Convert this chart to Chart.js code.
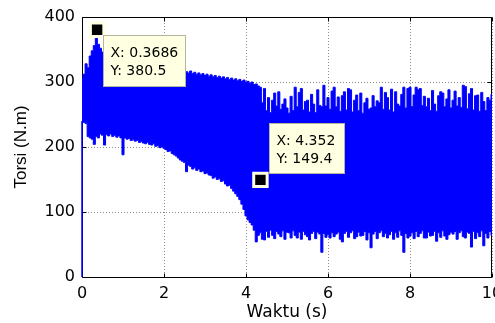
<!DOCTYPE html>
<html>
<head>
<meta charset="utf-8">
<script src="https://cdn.jsdelivr.net/npm/chart.js@4.4.1/dist/chart.umd.min.js"></script>
<style>
html, body { margin: 0; padding: 0; background: #fff; overflow: hidden; }
#wrap { width: 495px; height: 323px; overflow: hidden; }
</style>
</head>
<body>
<div id="wrap"><canvas id="grafik" width="510" height="323"></canvas></div>
<script>
// envelope of the torque signal, one value every 0.05 s from 0 to 10 s
var langkah = 0.05;
var batasAtas = [305,
    312, 328, 322, 340, 348, 356, 380, 358, 352, 346, 338, 342, 335, 330, 334, 328, 331, 326, 329, 325,
    324, 327, 322, 325, 320, 323, 319, 322, 318, 321, 317, 320, 316, 319, 315, 318, 314, 317, 313, 316,
    313, 316, 312, 318, 314, 317, 313, 319, 315, 318, 316, 314, 317, 313, 315, 312, 314, 311, 313, 310,
    312, 309, 311, 308, 310, 307, 309, 306, 308, 305, 307, 304, 306, 303, 305, 302, 304, 301, 303, 300,
    301, 298, 300, 296, 297, 294, 292, 268, 290, 256, 276, 253, 272, 283, 263, 285, 258, 266, 274, 260,
    252, 278, 256, 292, 262, 284, 290, 257, 270, 272, 254, 281, 266, 253, 288, 264, 262, 295, 263, 276,
    258, 286, 292, 262, 277, 255, 279, 285, 257, 290, 288, 254, 272, 280, 256, 283, 252, 268, 275, 258,
    260, 279, 262, 271, 268, 292, 258, 284, 276, 257, 289, 254, 285, 266, 263, 281, 292, 260, 290, 292,
    262, 280, 292, 288, 290, 264, 278, 262, 275, 256, 287, 266, 255, 279, 285, 283, 262, 274, 288, 260,
    272, 286, 263, 276, 261, 295, 293, 259, 282, 290, 257, 279, 280, 255, 284, 270, 256, 276, 272, 281];
var batasBawah = [240,
    238, 236, 216, 214, 212, 204, 216, 214, 220, 218, 203, 219, 217, 220, 216, 218, 215, 217, 214, 188,
    214, 212, 213, 210, 211, 209, 210, 207, 208, 206, 205, 207, 204, 203, 205, 201, 202, 199, 200, 198,
    196, 193, 194, 190, 188, 186, 183, 180, 178, 176, 162, 172, 170, 166, 168, 164, 166, 162, 163, 159,
    160, 157, 156, 152, 154, 150, 151, 147, 148, 143, 140, 141, 136, 132, 128, 124, 119, 112, 104, 94,
    88, 84, 80, 72, 54, 64, 68, 58, 57, 70, 61, 72, 64, 59, 70, 66, 62, 71, 58, 69,
    68, 60, 71, 64, 60, 69, 58, 70, 65, 62, 57, 67, 70, 59, 69, 66, 38, 67, 61, 65,
    60, 68, 62, 66, 69, 58, 54, 67, 70, 61, 68, 71, 59, 62, 69, 63, 64, 70, 57, 68,
    45, 66, 70, 59, 68, 71, 62, 67, 60, 65, 70, 58, 68, 61, 71, 64, 38, 67, 60, 63,
    68, 59, 70, 62, 67, 71, 60, 60, 69, 63, 64, 70, 55, 68, 61, 71, 63, 58, 65, 69,
    66, 70, 58, 68, 71, 62, 60, 69, 67, 46, 70, 59, 68, 62, 71, 48, 67, 60, 70, 64];

// start-up transient at t = 0
var awalX = [0, 0];
var awalY = [0, 240];

// data tips
var tipX = [0.3686, 4.352];
var tipY = [380.5, 149.4];

var xTicks = [0, 2, 4, 6, 8, 10];
var yTicks = [0, 100, 200, 300, 400];

function titik(nilai) {
    var out = [];
    for (var i = 0; i < nilai.length; i++) {
        out.push({ x: Math.round(i * langkah * 100) / 100, y: nilai[i] });
    }
    return out;
}

function pasangan(xs, ys) {
    var out = [];
    for (var i = 0; i < xs.length; i++) out.push({ x: xs[i], y: ys[i] });
    return out;
}

// box + inward ticks like a matlab axes
var bingkai = {
    id: 'bingkai',
    beforeDatasetsDraw: function(chart) {
        var ctx = chart.ctx, a = chart.chartArea;
        var sx = chart.scales.x, sy = chart.scales.y;
        var l = Math.round(a.left) + 0.5, r = Math.round(a.right) - 0.5;
        var t = Math.round(a.top) + 0.5, b = Math.round(a.bottom) + 0.5;
        ctx.save();
        ctx.strokeStyle = '#000';
        ctx.lineWidth = 1;
        ctx.beginPath();
        ctx.rect(l, t, r - l, b - t);
        for (var i = 0; i < xTicks.length; i++) {
            var px = Math.round(sx.getPixelForValue(xTicks[i])) + 0.5;
            ctx.moveTo(px, b); ctx.lineTo(px, b - 4);
            ctx.moveTo(px, t); ctx.lineTo(px, t + 4);
        }
        for (var j = 0; j < yTicks.length; j++) {
            var py = Math.round(sy.getPixelForValue(yTicks[j])) + 0.5;
            ctx.moveTo(l, py); ctx.lineTo(l + 4, py);
            ctx.moveTo(r, py); ctx.lineTo(r - 4, py);
        }
        ctx.stroke();
        ctx.restore();
    },
    afterDatasetsDraw: function(chart) {
        var ctx = chart.ctx;
        var sx = chart.scales.x, sy = chart.scales.y;
        // box placement relative to the marked point
        var geser = [[6, 5, 82, 51], [9, -57, 75, 50]];
        ctx.save();
        ctx.font = '14px "DejaVu Sans"';
        ctx.textBaseline = 'middle';
        ctx.textAlign = 'left';
        for (var i = 0; i < tipX.length; i++) {
            var px = sx.getPixelForValue(tipX[i]);
            var py = sy.getPixelForValue(tipY[i]);
            var g = geser[i];
            var bx = Math.round(px + g[0]) + 0.5, by = Math.round(py + g[1]) + 0.5;
            ctx.fillStyle = '#ffffe1';
            ctx.strokeStyle = '#b4b4a0';
            ctx.lineWidth = 1;
            ctx.fillRect(bx, by, g[2], g[3]);
            ctx.strokeRect(bx, by, g[2], g[3]);
            ctx.fillStyle = '#000';
            ctx.fillText('X: ' + tipX[i], bx + 7, by + 17.5);
            ctx.fillText('Y: ' + tipY[i], bx + 7, by + 35.5);
        }
        ctx.restore();
    }
};

var ctx = document.getElementById('grafik');
new Chart(ctx, {
    type: 'line',
    data: {
        datasets: [{
            label: 'tip',
            type: 'scatter',
            data: pasangan(tipX, tipY),
            pointStyle: 'rect',
            pointRadius: 9.5,
            backgroundColor: '#000',
            borderColor: '#ffffe1',
            borderWidth: 3,
            clip: false
        }, {
            label: 'awal',
            data: pasangan(awalX, awalY),
            borderColor: '#0000ff',
            borderWidth: 1.5,
            pointRadius: 0,
            fill: false,
            clip: 3
        }, {
            label: 'atas',
            data: titik(batasAtas),
            borderColor: '#0000ff',
            backgroundColor: '#0000ff',
            borderWidth: 1,
            pointRadius: 0,
            stepped: 'middle',
            fill: '+1'
        }, {
            label: 'bawah',
            data: titik(batasBawah),
            borderColor: '#0000ff',
            borderWidth: 1,
            pointRadius: 0,
            stepped: 'middle',
            fill: false
        }]
    },
    options: {
        responsive: false,
        animation: false,
        events: [],
        layout: { padding: { top: 17, right: 18, bottom: 0, left: 0 } },
        plugins: {
            legend: { display: false },
            tooltip: { enabled: false }
        },
        scales: {
            x: {
                type: 'linear',
                min: 0,
                max: 10,
                afterBuildTicks: function(s) {
                    s.ticks = xTicks.map(function(v) { return { value: v }; });
                },
                afterFit: function(s) { s.height = 46; },
                ticks: {
                    color: '#000',
                    font: { family: 'DejaVu Sans', size: 16 },
                    padding: 7,
                    maxRotation: 0,
                    autoSkip: false
                },
                grid: { color: '#8a8a8a', drawTicks: false, lineWidth: 1 },
                border: { display: false, dash: [1, 2] },
                title: {
                    display: true,
                    text: 'Waktu (s)',
                    color: '#000',
                    font: { family: 'DejaVu Sans', size: 17 },
                    padding: { top: 0, bottom: 0 }
                }
            },
            y: {
                type: 'linear',
                min: 0,
                max: 400,
                afterBuildTicks: function(s) {
                    s.ticks = yTicks.map(function(v) { return { value: v }; });
                },
                afterFit: function(s) { s.width = 82; },
                ticks: {
                    color: '#000',
                    font: { family: 'DejaVu Sans', size: 16 },
                    padding: 7
                },
                grid: { color: '#8a8a8a', drawTicks: false, lineWidth: 1 },
                border: { display: false, dash: [1, 2] },
                title: {
                    display: true,
                    text: 'Torsi (N.m)',
                    color: '#000',
                    font: { family: 'Liberation Sans', size: 17 },
                    padding: { top: 11, bottom: 0 }
                }
            }
        }
    },
    plugins: [bingkai]
});
</script>
</body>
</html>
